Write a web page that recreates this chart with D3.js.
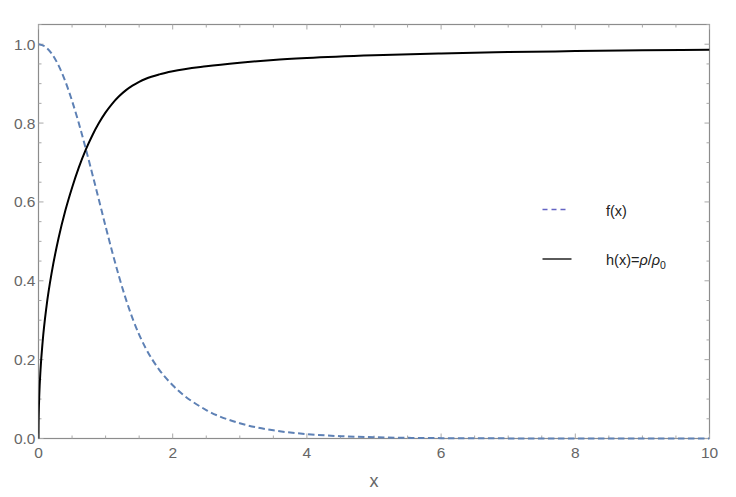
<!DOCTYPE html>
<html><head><meta charset="utf-8">
<script src="https://cdn.jsdelivr.net/npm/d3@7"></script>
<style>
html,body{margin:0;padding:0;background:#fff;}
svg text{font-family:"Liberation Sans",Arial,sans-serif;}
</style></head>
<body>
<script>
// ---- data ----
const fX = [0,0.1,0.2,0.3,0.4,0.5,0.6,0.7,0.8,0.9,1.0,1.1,1.2,1.3,1.4,1.5,1.6,1.8,2.0,2.5,3.0,3.5,4.0,4.5,5.0,6.0,7.0,8.0,10.0];
const fY = [1.0,0.9938,0.9755,0.9457,0.9056,0.8564,0.8001,0.7379,0.6723,0.6054,0.5379,0.4726,0.4108,0.3547,0.3054,0.2634,0.2284,0.1742,0.1351,0.0722,0.0387,0.0207,0.0111,0.0059,0.0032,0.0009,0.0003,0.0001,0.0];
const hX = [0,0.001,0.004,0.012,0.03,0.063,0.12,0.2,0.3,0.4,0.5,0.6,0.708,0.8,0.9,1.0,1.1,1.2,1.3,1.4,1.5,1.6,1.8,2.0,2.5,3.0,3.5,4.0,5.0,6.0,7.0,8.0,9.0,10.0];
const hY = [0,0.032,0.064,0.111,0.174,0.248,0.336,0.424,0.509,0.578,0.636,0.687,0.734,0.768,0.800,0.827,0.8495,0.868,0.883,0.895,0.9047,0.9125,0.9235,0.9315,0.944,0.953,0.960,0.965,0.972,0.9767,0.980,0.9825,0.9845,0.986];
const xTickLabels = [0,2,4,6,8,10];
const yTickLabels = [0.0,0.2,0.4,0.6,0.8,1.0];
const legendLabels = ["f(x)","h(x)"];

(function(){
const W=736,H=497;
const mL=38.5,mR=709.5,mT=24.5,mB=438.5;
const x=d3.scaleLinear().domain([0,10]).range([mL,mR]);
const y=d3.scaleLinear().domain([0,1.05]).range([mB,mT]);

const svg=d3.select("body").append("svg").attr("width",W).attr("height",H);

const frameColor="#8c8c8c", tickColor="#a8a8a8";
svg.append("rect").attr("x",mL).attr("y",mT).attr("width",mR-mL).attr("height",mB-mT)
  .attr("fill","none").attr("stroke",frameColor).attr("stroke-width",1.2);

const xMajor=d3.range(0,10.001,2), xMinor=d3.range(0,10.001,0.5).filter(v=>Math.abs(v/2-Math.round(v/2))>1e-6);
const yMajor=d3.range(0,1.0001,0.2), yMinor=d3.range(0,1.0501,0.05).filter(v=>Math.abs(v/0.2-Math.round(v/0.2))>1e-6);
const tg=svg.append("g").attr("stroke",tickColor).attr("stroke-width",1);
function xt(vals,len){
  vals.forEach(v=>{
    tg.append("line").attr("x1",x(v)).attr("x2",x(v)).attr("y1",mB).attr("y2",mB-len);
    tg.append("line").attr("x1",x(v)).attr("x2",x(v)).attr("y1",mT).attr("y2",mT+len);
  });
}
function yt(vals,len){
  vals.forEach(v=>{
    tg.append("line").attr("y1",y(v)).attr("y2",y(v)).attr("x1",mL).attr("x2",mL+len);
    tg.append("line").attr("y1",y(v)).attr("y2",y(v)).attr("x1",mR).attr("x2",mR-len);
  });
}
xt(xMajor,5); xt(xMinor,3); yt(yMajor,5); yt(yMinor,3);

const labColor="#666";
svg.append("g").selectAll("text").data(xTickLabels).join("text")
  .attr("x",d=>x(d)).attr("y",mB+19).attr("text-anchor","middle")
  .attr("fill",labColor).attr("font-size",15.5).text(d=>d);
svg.append("g").selectAll("text").data(yTickLabels).join("text")
  .attr("x",mL-3).attr("y",d=>y(d)+5.5).attr("text-anchor","end")
  .attr("fill",labColor).attr("font-size",15.5).text(d=>d3.format(".1f")(d));
svg.append("text").attr("x",(mL+mR)/2).attr("y",487).attr("text-anchor","middle")
  .attr("fill",labColor).attr("font-size",18).text("x");

svg.append("clipPath").attr("id","c").append("rect")
  .attr("x",mL).attr("y",mT).attr("width",mR-mL).attr("height",mB-mT+2);
const line=d3.line().x(d=>x(d[0])).y(d=>y(d[1])).curve(d3.curveMonotoneX);
svg.append("path").datum(fX.map((v,i)=>[v,fY[i]])).attr("d",line)
  .attr("fill","none").attr("stroke","#5E81B5").attr("stroke-width",2)
  .attr("stroke-dasharray","6.5,3.5").attr("clip-path","url(#c)");
svg.append("path").datum(hX.map((v,i)=>[v,hY[i]])).attr("d",line)
  .attr("fill","none").attr("stroke","#000").attr("stroke-width",2)
  .attr("clip-path","url(#c)");

const lg=svg.append("g");
lg.append("line").attr("x1",542.5).attr("x2",568).attr("y1",209.5).attr("y2",209.5)
  .attr("stroke","#6464c4").attr("stroke-width",1.3).attr("stroke-dasharray","5,4");
lg.append("text").attr("x",606).attr("y",216).attr("font-size",14.5).attr("fill","#222").text(legendLabels[0]);
lg.append("line").attr("x1",542.5).attr("x2",571.5).attr("y1",259).attr("y2",259)
  .attr("stroke","#000").attr("stroke-width",1.3);
const t2=lg.append("text").attr("x",606).attr("y",265).attr("font-size",14.5).attr("fill","#222");
t2.append("tspan").text(legendLabels[1]+"=");
t2.append("tspan").attr("font-style","italic").text("ρ");
t2.append("tspan").text("/");
t2.append("tspan").attr("font-style","italic").text("ρ");
t2.append("tspan").attr("font-size",10.5).attr("dy",3.5).text("0");
})();
</script>
</body></html>
